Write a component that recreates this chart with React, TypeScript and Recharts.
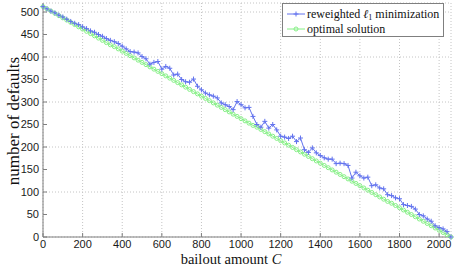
import React from 'react';
import { LineChart, Line, XAxis, YAxis, CartesianGrid, Label } from 'recharts';

const bailoutC = [
  0, 20, 40, 60, 80, 100, 120, 140, 160, 180,
  200, 220, 240, 260, 280, 300, 320, 340, 360, 380,
  400, 420, 440, 460, 480, 500, 520, 540, 560, 580,
  600, 620, 640, 660, 680, 700, 720, 740, 760, 780,
  800, 820, 840, 860, 880, 900, 920, 940, 960, 980,
  1000, 1020, 1040, 1060, 1080, 1100, 1120, 1140, 1160, 1180,
  1200, 1220, 1240, 1260, 1280, 1300, 1320, 1340, 1360, 1380,
  1400, 1420, 1440, 1460, 1480, 1500, 1520, 1540, 1560, 1580,
  1600, 1620, 1640, 1660, 1680, 1700, 1720, 1740, 1760, 1780,
  1800, 1820, 1840, 1860, 1880, 1900, 1920, 1940, 1960, 1980,
  2000, 2020, 2040, 2060,
];

const reweightedL1 = [
  512, 507, 502, 498, 493, 489, 484, 479, 475, 472,
  467, 463, 458, 455, 450, 446, 441, 437, 434, 430,
  424, 418, 412, 411, 409, 401, 396, 384, 388, 390,
  373, 379, 375, 360, 362, 350, 345, 344, 351, 335,
  327, 320, 316, 313, 309, 298, 294, 290, 283, 301,
  294, 287, 288, 268, 250, 244, 257, 242, 250, 238,
  224, 222, 219, 224, 212, 220, 194, 188, 198, 187,
  181, 176, 173, 173, 163, 164, 163, 159, 131, 144,
  136, 131, 133, 114, 116, 109, 107, 94, 92, 87,
  85, 72, 70, 68, 62, 50, 47, 40, 35, 25,
  21, 18, 12, 0,
];

const optimalSolution = [
  512, 507, 502, 497, 492, 487, 482, 477, 472, 467,
  462, 457, 452, 447, 442, 437, 432, 427, 423, 418,
  413, 408, 403, 398, 393, 388, 383, 378, 373, 368,
  363, 358, 353, 348, 343, 338, 333, 328, 323, 318,
  313, 308, 303, 298, 293, 288, 283, 278, 273, 268,
  263, 258, 253, 248, 244, 239, 234, 229, 224, 219,
  214, 209, 204, 199, 194, 189, 184, 179, 174, 169,
  164, 159, 154, 149, 144, 139, 134, 129, 124, 119,
  114, 109, 104, 99, 94, 89, 84, 79, 75, 70,
  65, 60, 55, 50, 45, 40, 35, 30, 25, 20,
  15, 10, 5, 0,
];

const xTicks = [0, 200, 400, 600, 800, 1000, 1200, 1400, 1600, 1800, 2000];
const yTicks = [0, 50, 100, 150, 200, 250, 300, 350, 400, 450, 500];

const data = bailoutC.map((c, i) => ({
  c,
  reweighted: reweightedL1[i],
  optimal: optimalSolution[i],
}));

const BLUE = '#6273ee';
const GREEN = '#86f086';
const AXIS = '#7f7f7f';
const GRID = '#c4c4c4';

const PlusDot = (props: any) => {
  const { cx, cy, index } = props;
  if (cx == null || cy == null) return <g key={`pb${index}`} />;
  return (
    <path
      key={`p${index}`}
      d={`M${cx - 2.5},${cy}H${cx + 2.5}M${cx},${cy - 2.5}V${cy + 2.5}`}
      stroke={BLUE}
      strokeWidth={1}
      fill="none"
    />
  );
};

const CircleDot = (props: any) => {
  const { cx, cy, index } = props;
  if (cx == null || cy == null) return <g key={`cb${index}`} />;
  return <circle key={`c${index}`} cx={cx} cy={cy} r={2} stroke={GREEN} strokeWidth={1} fill="none" />;
};

const tickFont = { fontFamily: "'Liberation Sans', Arial, sans-serif", fontSize: 11, fill: '#1a1a1a' };

export default function App() {
  return (
    <div style={{ position: 'absolute', left: 0, top: 0, width: 456, height: 267, background: '#fff' }}>
      <LineChart width={456} height={267} data={data} margin={{ top: 3, right: 5, bottom: 0, left: 0 }}>
        <CartesianGrid strokeDasharray="1 2" stroke={GRID} />
        <XAxis
          dataKey="c"
          type="number"
          domain={[0, 2060]}
          ticks={xTicks}
          height={30}
          tick={tickFont}
          tickSize={-4}
          tickMargin={7}
          tickLine={{ stroke: AXIS }}
          axisLine={{ stroke: AXIS }}
        >
          <Label
            content={() => (
              <text x={231} y={264} textAnchor="middle" fontFamily="'Liberation Serif', 'Times New Roman', serif" fontSize={14.5} fill="#111">
                bailout amount <tspan fontStyle="italic">C</tspan>
              </text>
            )}
          />
        </XAxis>
        <XAxis
          xAxisId="top"
          orientation="top"
          dataKey="c"
          type="number"
          domain={[0, 2060]}
          ticks={xTicks}
          height={0}
          tick={false}
          tickSize={-4}
          tickLine={{ stroke: AXIS }}
          axisLine={{ stroke: AXIS }}
        />
        <YAxis
          type="number"
          domain={[0, 520]}
          ticks={yTicks}
          width={43}
          tick={tickFont}
          tickSize={-4}
          tickMargin={8}
          tickLine={{ stroke: AXIS }}
          axisLine={{ stroke: AXIS }}
        >
          <Label
            content={() => (
              <text transform="rotate(-90)" x={-121} y={19} textAnchor="middle" fontFamily="'Liberation Serif', 'Times New Roman', serif" fontSize={17} fill="#111">
                number of defaults
              </text>
            )}
          />
        </YAxis>
        <YAxis
          yAxisId="right"
          orientation="right"
          type="number"
          domain={[0, 520]}
          ticks={yTicks}
          width={0}
          tick={false}
          tickSize={-4}
          tickLine={{ stroke: AXIS }}
          axisLine={{ stroke: AXIS }}
        />
        <Line
          dataKey="optimal"
          stroke={GREEN}
          strokeWidth={1}
          dot={CircleDot}
          activeDot={false}
          isAnimationActive={false}
        />
        <Line
          dataKey="reweighted"
          stroke={BLUE}
          strokeWidth={1}
          dot={PlusDot}
          activeDot={false}
          isAnimationActive={false}
        />
      </LineChart>
      <div
        style={{
          position: 'absolute',
          left: 282,
          top: 3,
          width: 162,
          height: 34,
          border: `1px solid ${AXIS}`,
          background: '#fff',
          fontFamily: "'Liberation Serif', 'Times New Roman', serif",
          fontSize: 12,
          color: '#111',
          boxSizing: 'border-box',
        }}
      >
        <div style={{ position: 'absolute', left: 3, top: 3, height: 14, display: 'flex', alignItems: 'center', whiteSpace: 'nowrap' }}>
          <svg width={20} height={14} style={{ display: 'block' }}>
            <line x1={1} y1={7} x2={19} y2={7} stroke={BLUE} strokeWidth={1} />
            <path d="M7.5,7H12.5M10,4.5V9.5" stroke={BLUE} strokeWidth={1} fill="none" />
          </svg>
          <span style={{ marginLeft: 1 }}>
            reweighted <i>ℓ</i><sub style={{ fontSize: 8, verticalAlign: '-2px' }}>1</sub> minimization
          </span>
        </div>
        <div style={{ position: 'absolute', left: 3, top: 18, height: 14, display: 'flex', alignItems: 'center', whiteSpace: 'nowrap' }}>
          <svg width={20} height={14} style={{ display: 'block' }}>
            <line x1={1} y1={7} x2={19} y2={7} stroke={GREEN} strokeWidth={1} />
            <circle cx={10} cy={7} r={2} stroke={GREEN} strokeWidth={1} fill="none" />
          </svg>
          <span style={{ marginLeft: 1 }}>optimal solution</span>
        </div>
      </div>
    </div>
  );
}
